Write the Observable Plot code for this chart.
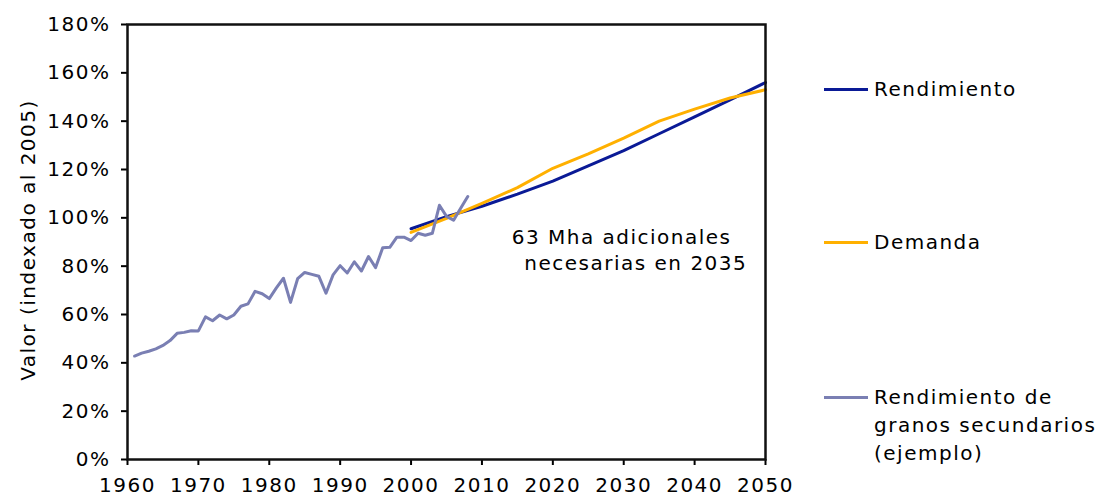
<!DOCTYPE html>
<html><head><meta charset="utf-8">
<script src="https://cdn.jsdelivr.net/npm/d3@7"></script>
<script src="https://cdn.jsdelivr.net/npm/@observablehq/plot@0.6"></script>
<style>
body{margin:0;background:#fff;}
#wrap{position:relative;width:1103px;height:497px;overflow:hidden;font-family:"DejaVu Sans";}
#wrap svg{position:absolute;left:0;top:0;}
.item{position:absolute;left:824px;font-size:20px;letter-spacing:1.5px;line-height:28px;color:#000;}
.item .sw{position:absolute;left:0;width:44px;height:3px;top:13px;}
.item .lb{margin-left:50px;white-space:nowrap;}
</style></head><body><div id="wrap"></div>
<script>
// Historical: Rendimiento de granos secundarios (ejemplo)
const histYears = [1961,1962,1963,1964,1965,1966,1967,1968,1969,1970,1971,1972,1973,1974,1975,1976,1977,1978,1979,1980,1981,1982,1983,1984,1985,1986,1987,1988,1989,1990,1991,1992,1993,1994,1995,1996,1997,1998,1999,2000,2001,2002,2003,2004,2005,2006,2007,2008];
const histValues = [42.8,44.0,44.8,45.8,47.2,49.2,52.2,52.6,53.3,53.2,59.0,57.4,59.8,58.2,59.8,63.4,64.4,69.6,68.6,66.6,71.0,75.0,65.0,74.8,77.4,76.6,75.8,68.8,76.4,80.2,77.2,81.8,78.0,84.0,79.4,87.6,87.8,92.0,92.0,90.6,93.6,92.8,93.6,105.2,100.6,99.0,104.0,108.8];
// Projections
const projYears = [2000,2005,2010,2015,2020,2025,2030,2035,2040,2045,2050];
const rendimiento = [95.5,100.5,104.8,109.8,115.2,121.5,127.8,134.8,141.8,148.8,156.0];
const demanda = [94.0,99.8,106.0,112.5,120.5,126.5,133.0,140.0,145.0,149.6,153.0];
const xTicks = [1960,1970,1980,1990,2000,2010,2020,2030,2040,2050];
const yTicks = [0,20,40,60,80,100,120,140,160,180];
const seriesNames = ["Rendimiento","Demanda","Rendimiento de\ngranos secundarios\n(ejemplo)"];
const annotLines = ["63 Mha adicionales","necesarias en 2035"];
const annotX = [2029.7,2031.7];
const annotY = [91.9,81.1];
const yLabel = "Valor (indexado al 2005)";

const colors = ["#0a1a96","#ffb000","#7a7fb3"];

const hist = histYears.map((y,i)=>({year:y, v:histValues[i]}));
const rend = projYears.map((y,i)=>({year:y, v:rendimiento[i]}));
const dem = projYears.map((y,i)=>({year:y, v:demanda[i]}));
const annot = annotLines.map((t,i)=>({t, x:annotX[i], y:annotY[i]}));

const chart = Plot.plot({
  width:1103, height:497,
  marginLeft:127, marginRight:338, marginTop:24, marginBottom:38,
  x:{domain:[1960,2050]},
  y:{domain:[0,180]},
  style:{fontFamily:"DejaVu Sans", fontSize:"20px", letterSpacing:"1.5px", color:"#000", background:"transparent", overflow:"visible"},
  marks:[
    Plot.axisX({ticks:xTicks, tickFormat:d=>String(d), tickSize:6, tickPadding:12, label:null, stroke:"#000", strokeWidth:2, strokeOpacity:1, fontSize:20}),
    Plot.axisY({ticks:yTicks, tickFormat:d=>d+"%", tickSize:6, tickPadding:11, label:null, stroke:"#000", strokeWidth:2, strokeOpacity:1, fontSize:20}),
    Plot.text([yLabel], {text:d=>d, frameAnchor:"left", rotate:-90, dx:-99, dy:-2, textAnchor:"middle", fontSize:20, fill:"#000"}),
    Plot.line(rend, {x:"year", y:"v", stroke:colors[0], strokeWidth:3}),
    Plot.line(dem, {x:"year", y:"v", stroke:colors[1], strokeWidth:3}),
    Plot.line(hist, {x:"year", y:"v", stroke:colors[2], strokeWidth:3}),
    Plot.text(annot, {x:"x", y:"y", text:"t", fontSize:20, fill:"#000", textAnchor:"middle"}),
    Plot.frame({stroke:"#111", strokeWidth:2.5})
  ]
});
const wrap = document.getElementById("wrap");
wrap.appendChild(chart);

const legendY = [89, 242, 397];
seriesNames.forEach((name,i)=>{
  const d = document.createElement("div");
  d.className = "item";
  d.style.top = (legendY[i]-14)+"px";
  const sw = document.createElement("div");
  sw.className="sw"; sw.style.background = colors[i];
  const lb = document.createElement("div");
  lb.className="lb";
  lb.innerHTML = name.split("\n").join("<br>");
  d.appendChild(sw); d.appendChild(lb);
  wrap.appendChild(d);
});
</script>
</body></html>
